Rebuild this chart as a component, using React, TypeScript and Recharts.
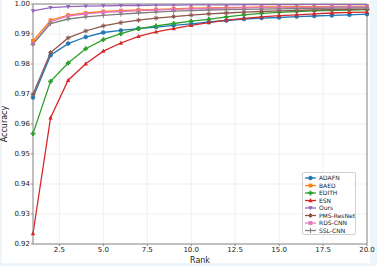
import React from 'react';
import { LineChart, Line, XAxis, YAxis, CartesianGrid, ReferenceLine, Legend } from 'recharts';

const ranks = [1, 2, 3, 4, 5, 6, 7, 8, 9, 10, 11, 12, 13, 14, 15, 16, 17, 18, 19, 20];
const adafn = [0.9688, 0.9829, 0.9868, 0.989, 0.9905, 0.9912, 0.9918, 0.9923, 0.9929, 0.9934, 0.994, 0.9945, 0.995, 0.9953, 0.9955, 0.9958, 0.996, 0.9962, 0.9964, 0.9966];
const baed = [0.9877, 0.9946, 0.9963, 0.997, 0.9975, 0.9978, 0.998, 0.9982, 0.9984, 0.9986, 0.9987, 0.9988, 0.9989, 0.999, 0.999, 0.9991, 0.9991, 0.9992, 0.9992, 0.9993];
const edith = [0.9568, 0.9742, 0.9803, 0.9851, 0.9881, 0.9901, 0.9918, 0.9927, 0.9935, 0.9943, 0.9949, 0.9957, 0.9964, 0.9969, 0.9972, 0.9975, 0.9977, 0.9979, 0.998, 0.9981];
const esn = [0.9235, 0.9621, 0.9746, 0.9801, 0.9843, 0.987, 0.9892, 0.9907, 0.9918, 0.9929, 0.9938, 0.9946, 0.9952, 0.9957, 0.9961, 0.9964, 0.9967, 0.997, 0.9972, 0.9973];
const ours = [0.9977, 0.9988, 0.9991, 0.9993, 0.9994, 0.9995, 0.9995, 0.9996, 0.9996, 0.9997, 0.9997, 0.9997, 0.9998, 0.9998, 0.9998, 0.9998, 0.9999, 0.9999, 0.9999, 0.9999];
const pms = [0.9699, 0.9838, 0.9887, 0.991, 0.9927, 0.9938, 0.9946, 0.9953, 0.9958, 0.9963, 0.9967, 0.997, 0.9973, 0.9975, 0.9977, 0.9979, 0.998, 0.9981, 0.9982, 0.9983];
const rds = [0.9868, 0.9941, 0.996, 0.9967, 0.9972, 0.9975, 0.9978, 0.998, 0.9982, 0.9984, 0.9985, 0.9986, 0.9987, 0.9988, 0.9988, 0.9989, 0.9989, 0.999, 0.999, 0.999];
const ssl = [0.9866, 0.9935, 0.995, 0.9957, 0.9962, 0.9966, 0.997, 0.9973, 0.9976, 0.9978, 0.998, 0.9981, 0.9982, 0.9983, 0.9984, 0.9985, 0.9985, 0.9986, 0.9986, 0.9987];

const xTicks = [2.5, 5.0, 7.5, 10.0, 12.5, 15.0, 17.5, 20.0];
const yTicks = [0.92, 0.93, 0.94, 0.95, 0.96, 0.97, 0.98, 0.99, 1.0];

const series = [
  { key: 'ADAFN', values: adafn, color: '#1f77b4', marker: 'circle' },
  { key: 'BAED', values: baed, color: '#ff7f0e', marker: 'square' },
  { key: 'EDITH', values: edith, color: '#2ca02c', marker: 'plusFilled' },
  { key: 'ESN', values: esn, color: '#d62728', marker: 'triUp' },
  { key: 'Ours', values: ours, color: '#9467bd', marker: 'triDown' },
  { key: 'PMS-ResNet', values: pms, color: '#8c564b', marker: 'star' },
  { key: 'RDS-CNN', values: rds, color: '#e377c2', marker: 'square' },
  { key: 'SSL-CNN', values: ssl, color: '#7f7f7f', marker: 'plus' },
];

const data = ranks.map((r, i) => {
  const row: any = { rank: r };
  series.forEach((s) => { row[s.key] = s.values[i]; });
  return row;
});

function Marker({ cx, cy, type, color }: { cx: number; cy: number; type: string; color: string }) {
  const s = 2.2;
  switch (type) {
    case 'circle':
      return <circle cx={cx} cy={cy} r={2} fill={color} stroke={color} strokeWidth={0.5} />;
    case 'square':
      return <rect x={cx - 1.9} y={cy - 1.9} width={3.8} height={3.8} fill={color} />;
    case 'plusFilled':
      return (
        <g fill={color}>
          <rect x={cx - 2.4} y={cy - 0.9} width={4.8} height={1.8} />
          <rect x={cx - 0.9} y={cy - 2.4} width={1.8} height={4.8} />
        </g>
      );
    case 'triUp':
      return <polygon points={`${cx},${cy - s - 0.3} ${cx - s},${cy + s - 0.5} ${cx + s},${cy + s - 0.5}`} fill={color} />;
    case 'triDown':
      return <polygon points={`${cx},${cy + s + 0.3} ${cx - s},${cy - s + 0.5} ${cx + s},${cy - s + 0.5}`} fill={color} />;
    case 'star':
      return (
        <g stroke={color} strokeWidth={1}>
          <line x1={cx - 2.4} y1={cy} x2={cx + 2.4} y2={cy} />
          <line x1={cx} y1={cy - 2.4} x2={cx} y2={cy + 2.4} />
          <line x1={cx - 1.6} y1={cy - 1.6} x2={cx + 1.6} y2={cy + 1.6} />
          <line x1={cx - 1.6} y1={cy + 1.6} x2={cx + 1.6} y2={cy - 1.6} />
        </g>
      );
    case 'plus':
    default:
      return (
        <g stroke={color} strokeWidth={1}>
          <line x1={cx - 2.5} y1={cy} x2={cx + 2.5} y2={cy} />
          <line x1={cx} y1={cy - 2.5} x2={cx} y2={cy + 2.5} />
        </g>
      );
  }
}

const font = 'DejaVu Sans, sans-serif';

function LegendBox() {
  return (
    <div
      style={{
        position: 'absolute',
        left: 302,
        top: 172,
        width: 54,
        height: 63,
        border: '1px solid #d0d0d0',
        borderRadius: 2,
        background: 'rgba(255,255,255,0.85)',
        boxSizing: 'border-box',
        fontFamily: font,
        fontSize: 6,
        color: '#222',
      }}
    >
      <svg width={54} height={63} style={{ position: 'absolute', left: 0, top: 0 }}>
        {series.map((s, i) => {
          const y = 5 + i * 7.5;
          return (
            <g key={s.key}>
              <line x1={2} y1={y} x2={13} y2={y} stroke={s.color} strokeWidth={1.3} />
              <Marker cx={7.5} cy={y} type={s.marker} color={s.color} />
              <text x={16} y={y + 2.1} fontSize={6} fontFamily={font} fill="#222">{s.key}</text>
            </g>
          );
        })}
      </svg>
    </div>
  );
}

const AccLabel = () => (
  <text x={7} y={124} transform="rotate(-90 7 124)" textAnchor="middle" fontSize={8} fontFamily={font} fill="#222">
    Accuracy
  </text>
);

const RankLabel = () => (
  <text x={200} y={263} textAnchor="middle" fontSize={8} fontFamily={font} fill="#222">
    Rank
  </text>
);

export default function App() {
  return (
    <div style={{ position: 'absolute', left: 0, top: 0, width: 377, height: 266, background: '#eef6fb' }}>
      <div style={{ position: 'absolute', left: 2, top: 0, width: 368, height: 263, background: '#ffffff' }} />
      <div style={{ position: 'absolute', left: 0, top: 0 }}>
        <LineChart width={377} height={266} data={data} margin={{ top: 4, right: 10, left: 0, bottom: 0 }}>
          <CartesianGrid stroke="#ebebeb" strokeWidth={0.8} />
          <XAxis
            dataKey="rank"
            type="number"
            domain={[1, 20]}
            ticks={xTicks}
            tickFormatter={(v: number) => v.toFixed(1)}
            height={22}
            tick={{ fontSize: 7, fontFamily: font, fill: '#222' }}
            tickSize={2}
            tickMargin={1}
            stroke="#888"
            axisLine={{ stroke: '#888', strokeWidth: 1 }}
            tickLine={{ stroke: '#888' }}
            allowDecimals
            label={<RankLabel />}
          />
          <YAxis
            type="number"
            domain={[0.92, 1.0]}
            ticks={yTicks}
            tickFormatter={(v: number) => v.toFixed(2)}
            width={33}
            tick={{ fontSize: 7, fontFamily: font, fill: '#222' }}
            tickSize={2}
            tickMargin={1}
            axisLine={{ stroke: '#888', strokeWidth: 1 }}
            tickLine={{ stroke: '#888' }}
            allowDataOverflow
            label={<AccLabel />}
          />
          <ReferenceLine x={20} stroke="#888" strokeWidth={1} />
          <ReferenceLine y={1.0} stroke="#888" strokeWidth={1} />
          {series.map((s) => (
            <Line
              key={s.key}
              dataKey={s.key}
              stroke={s.color}
              strokeWidth={1.3}
              isAnimationActive={false}
              type="linear"
              dot={(p: any) => <Marker key={`${s.key}-${p.index}`} cx={p.cx} cy={p.cy} type={s.marker} color={s.color} />}
              activeDot={false}
            />
          ))}
        </LineChart>
      </div>
      <LegendBox />
    </div>
  );
}
